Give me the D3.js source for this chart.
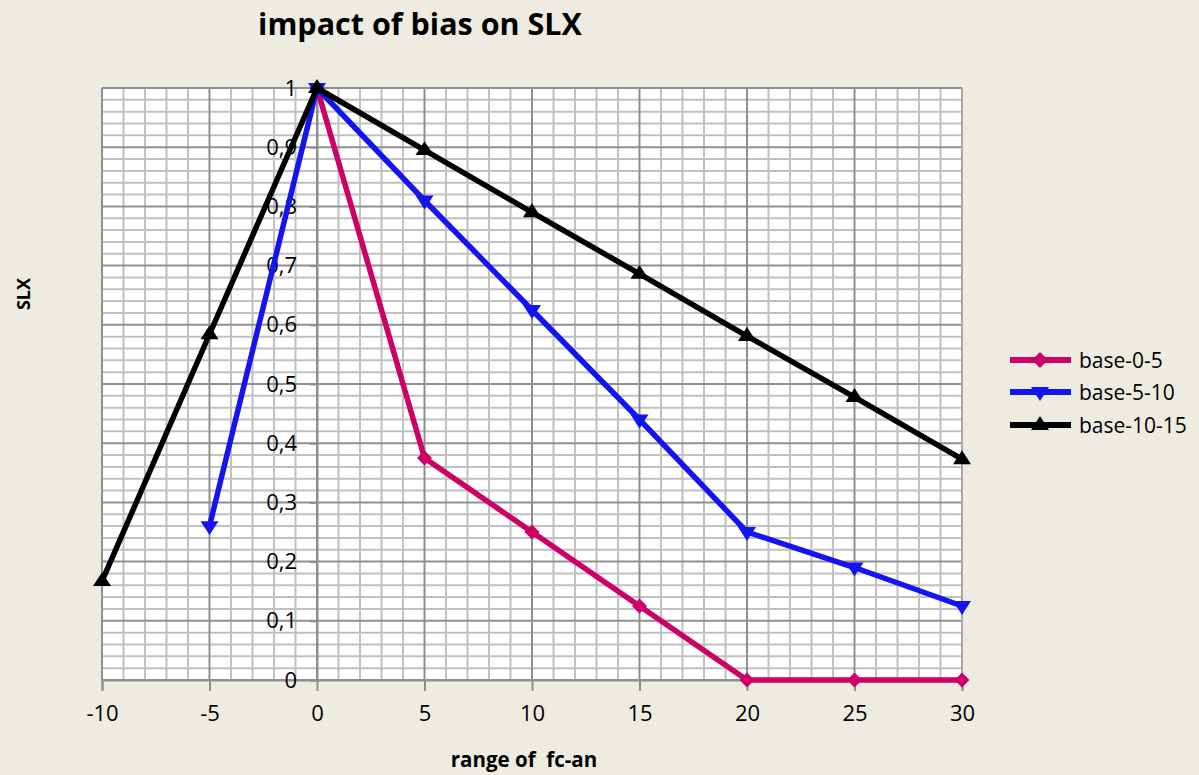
<!DOCTYPE html>
<html><head><meta charset="utf-8">
<script src="https://cdn.jsdelivr.net/npm/d3@7"></script>
<style>
body{margin:0;background:#eeebe0;}
text{font-family:"Open Sans",sans-serif;white-space:pre;}
</style></head>
<body><svg id="c" width="1199" height="775"></svg>
<script>
const xTicks = [-10,-5,0,5,10,15,20,25,30];
const yTicks = [0,0.1,0.2,0.3,0.4,0.5,0.6,0.7,0.8,0.9,1];
const yTickLabels = ["0","0,1","0,2","0,3","0,4","0,5","0,6","0,7","0,8","0,9","1"];
const seriesNames = ["base-0-5","base-5-10","base-10-15"];
const xBase05 = [0,5,10,15,20,25,30];
const yBase05 = [1,0.375,0.25,0.125,0,0,0];
const xBase510 = [-5,0,5,10,15,20,25,30];
const yBase510 = [0.26,1,0.81,0.625,0.44,0.25,0.19,0.125];
const xBase1015 = [-10,-5,0,5,10,15,20,25,30];
const yBase1015 = [0.167,0.584,1,0.895,0.79,0.686,0.581,0.478,0.373];

const colors = ["#cc0066","#1414f0","#000000"];
const markers = ["diamond","down","up"];
const series = [
  {name:seriesNames[0], pts:xBase05.map((x,i)=>[x,yBase05[i]])},
  {name:seriesNames[1], pts:xBase510.map((x,i)=>[x,yBase510[i]])},
  {name:seriesNames[2], pts:xBase1015.map((x,i)=>[x,yBase1015[i]])}
];

const svg = d3.select("#c");
const L=102,R=962,T=88,B=680;
const x = d3.scaleLinear().domain([-10,30]).range([L,R]);
const y = d3.scaleLinear().domain([0,1]).range([B,T]);

svg.append("rect").attr("x",L).attr("y",T).attr("width",R-L).attr("height",B-T).attr("fill","#fff");

// minor grid
const g = svg.append("g");
g.selectAll(".vm").data(d3.range(-10,31,1).filter(v=>v%5!==0)).join("line")
  .attr("x1",d=>x(d)).attr("x2",d=>x(d)).attr("y1",T).attr("y2",B)
  .attr("stroke","#c0c0c0").attr("stroke-width",2);
g.selectAll(".hm").data(d3.range(0,51,1).filter(v=>v%5!==0).map(v=>v*0.02)).join("line")
  .attr("y1",d=>y(d)).attr("y2",d=>y(d)).attr("x1",L).attr("x2",R)
  .attr("stroke","#c0c0c0").attr("stroke-width",2);
// major grid
g.selectAll(".vM").data(xTicks).join("line")
  .attr("x1",d=>x(d)).attr("x2",d=>x(d)).attr("y1",T).attr("y2",B)
  .attr("stroke","#8f8f8f").attr("stroke-width",2);
g.selectAll(".hM").data(yTicks).join("line")
  .attr("y1",d=>y(d)).attr("y2",d=>y(d)).attr("x1",L).attr("x2",R)
  .attr("stroke","#8f8f8f").attr("stroke-width",2);
svg.append("line").attr("x1",R).attr("x2",R).attr("y1",T).attr("y2",B).attr("stroke","#a8a8a8").attr("stroke-width",2);

// x axis
const xAxis = d3.axisBottom(x).tickValues(xTicks).tickSize(11).tickPadding(14).tickFormat(d=>String(d));
const xg = svg.append("g").attr("transform",`translate(0,${B})`).call(xAxis);
xg.select(".domain").attr("stroke","#8f8f8f").attr("stroke-width",2);
xg.selectAll(".tick line").attr("stroke","#8f8f8f").attr("stroke-width",2);
xg.selectAll("text").attr("font-size",22).attr("fill","#000").attr("font-family","Open Sans");

// y axis at x=0
const yAxis = d3.axisLeft(y).tickValues(yTicks).tickSize(7).tickPadding(13).tickFormat((d,i)=>yTickLabels[i]);
const yg = svg.append("g").attr("transform",`translate(${x(0)},0)`).call(yAxis);
yg.select(".domain").attr("stroke","#8f8f8f").attr("stroke-width",2);
yg.selectAll(".tick line").attr("stroke","#8f8f8f").attr("stroke-width",2);
yg.selectAll("text").attr("font-size",22).attr("fill","#000").attr("font-family","Open Sans");

// series
const line = d3.line().x(d=>x(d[0])).y(d=>y(d[1]));
function markerPath(type, s){
  if(type==="diamond") return `M0,${-s}L${s},0L0,${s}L${-s},0Z`;
  if(type==="down") return `M${-s},${-s*0.55}L${s},${-s*0.55}L0,${s*1.0}Z`;
  return `M${-s},${s*0.55}L${s},${s*0.55}L0,${-s*1.0}Z`;
}
series.forEach((s,i)=>{
  svg.append("path").datum(s.pts).attr("d",line).attr("fill","none")
    .attr("stroke",colors[i]).attr("stroke-width",5.5).attr("stroke-linejoin","round");
  svg.append("g").selectAll("path").data(s.pts).join("path")
    .attr("transform",d=>`translate(${x(d[0])},${y(d[1])})`)
    .attr("d",markerPath(markers[i], i===0?7.5:9)).attr("fill",colors[i]);
});

// title
svg.append("text").attr("x",420).attr("y",35).attr("text-anchor","middle")
  .attr("font-size",30.5).attr("font-weight","bold").attr("fill","#000").text("impact of bias on SLX");
// axis titles
svg.append("text").attr("x",524).attr("y",767).attr("text-anchor","middle")
  .attr("font-size",20.5).attr("font-weight","bold").attr("fill","#000").text("range of  fc-an");
svg.append("text").attr("transform","translate(30,294) rotate(-90)").attr("text-anchor","middle")
  .attr("font-size",18).attr("font-weight","bold").attr("fill","#000").text("SLX");

// legend
const legY = [360,392,425];
series.forEach((s,i)=>{
  const lg = svg.append("g").attr("transform",`translate(1010,${legY[i]})`);
  lg.append("line").attr("x1",0).attr("x2",61).attr("y1",0).attr("y2",0).attr("stroke",colors[i]).attr("stroke-width",6);
  lg.append("path").attr("transform","translate(30,0)").attr("d",markerPath(markers[i], i===0?8:9)).attr("fill",colors[i]);
  lg.append("text").attr("x",69).attr("y",8).attr("font-size",21).attr("fill","#000").text(s.name);
});
</script></body></html>
